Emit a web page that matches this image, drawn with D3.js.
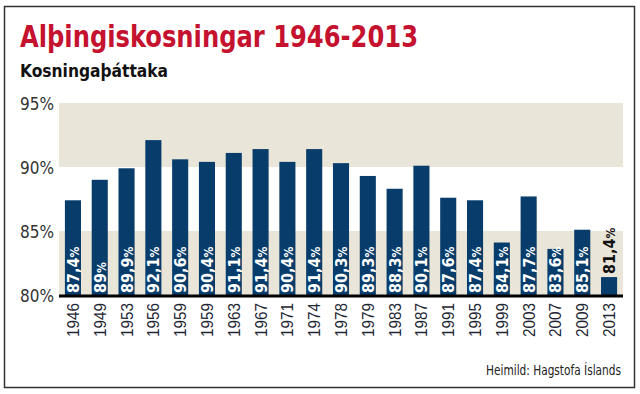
<!DOCTYPE html>
<html>
<head>
<meta charset="utf-8">
<script src="https://cdn.jsdelivr.net/npm/d3@7"></script>
<style>
  body { margin: 0; background: #fff; }
  svg { display: block; }
</style>
</head>
<body>
<script>
// ----------------------------------- DATA --------------------------------------------
var years = ['1946', '1949', '1953', '1956', '1959', '1959', '1963', '1967', '1971', '1974', '1978',
             '1979', '1983', '1987', '1991', '1995', '1999', '2003', '2007', '2009', '2013']
var turnout = [87.4, 89, 89.9, 92.1, 90.6, 90.4, 91.1, 91.4, 90.4, 91.4, 90.3,
               89.3, 88.3, 90.1, 87.6, 87.4, 84.1, 87.7, 83.6, 85.1, 81.4]
var yTicks = [80, 85, 90, 95]
var bands = [[80, 85], [90, 95]]

var title = 'Alþingiskosningar 1946-2013'
var subtitle = 'Kosningaþáttaka'
var source = 'Heimild: Hagstofa Íslands'

// ----------------------------------- SVG and FRAME --------------------------------------------
var width = 640
var height = 394
var narrow = '"DejaVu Sans Condensed", "Liberation Sans", sans-serif'

var svg = d3.select('body')
      .append('svg')
      .attr('width', width)
      .attr('height', height)

svg.append('rect')
    .attr('x', 4.5)
    .attr('y', 6.5)
    .attr('width', 630)
    .attr('height', 381)
    .attr('fill', 'none')
    .attr('stroke', '#333')
    .attr('stroke-width', 1.5)

// squeeze a text to the width it has in the print version
function squeeze(sel, w) {
  sel.attr('textLength', w).attr('lengthAdjust', 'spacingAndGlyphs')
}

svg.append('text')
    .attr('x', 20)
    .attr('y', 47)
    .attr('fill', '#c4122f')
    .style('font-family', narrow)
    .style('font-weight', 'bold')
    .style('font-size', '30px')
    .text(title)
    .call(squeeze, 398)

svg.append('text')
    .attr('x', 20)
    .attr('y', 77)
    .attr('fill', '#111')
    .style('font-family', narrow)
    .style('font-weight', 'bold')
    .style('font-size', '17px')
    .text(subtitle)
    .call(squeeze, 148)

// ----------------------------------- SCALES --------------------------------------------
var plotLeft = 59, plotRight = 623, plotTop = 103, plotBottom = 295

var x = d3.scaleBand()
    .domain(d3.range(years.length))
    .range([plotLeft, plotRight])
    .paddingInner(0.4)
    .paddingOuter(0.22)

var y = d3.scaleLinear()
    .domain([80, 95])
    .range([plotBottom, plotTop])

// ----------------------------------- BACKGROUND BANDS --------------------------------------------
svg.append('g')
    .selectAll('rect')
    .data(bands)
    .enter()
    .append('rect')
    .attr('x', plotLeft)
    .attr('width', plotRight - plotLeft)
    .attr('y', function(d){ return y(d[1]) })
    .attr('height', function(d){ return y(d[0]) - y(d[1]) })
    .attr('fill', '#e9e5d8')

// ----------------------------------- Y AXIS --------------------------------------------
var yAxis = svg.append('g')
    .attr('transform', 'translate(' + (plotLeft - 5) + ',0)')
    .call(d3.axisLeft(y).tickValues(yTicks).tickSize(0).tickPadding(0)
      .tickFormat(function(d){ return d + '%' }))

yAxis.select('.domain').remove()
yAxis.selectAll('text')
    .attr('fill', '#333')
    .attr('dy', '0.35em')
    .style('font-family', narrow)
    .style('font-size', '18px')
    .call(squeeze, 34)

// ----------------------------------- BARS --------------------------------------------
svg.append('g')
    .selectAll('rect')
    .data(turnout)
    .enter()
    .append('rect')
    .attr('x', function(d, i){ return x(i) })
    .attr('width', x.bandwidth())
    .attr('y', function(d){ return y(d) })
    .attr('height', function(d){ return y(80) - y(d) })
    .attr('fill', '#083d6b')

// value labels, white inside the bar unless the bar is too short
function fits(d) { return y(80) - y(d) > 40 }

var labels = svg.append('g')
    .selectAll('text')
    .data(turnout)
    .enter()
    .append('text')
    .attr('transform', function(d, i){
      var ty = fits(d) ? y(80) - 2 : y(d) - 3
      return 'translate(' + (x(i) + x.bandwidth() / 2 + 6) + ',' + ty + ') rotate(-90)'
    })
    .attr('fill', function(d){ return fits(d) ? '#fff' : '#111' })
    .style('font-family', narrow)
    .style('font-weight', 'bold')
    .style('font-size', '16px')

labels.append('tspan')
    .text(function(d){ return String(d).replace('.', ',') })
labels.append('tspan')
    .style('font-size', '12px')
    .text('%')

// ----------------------------------- X AXIS --------------------------------------------
svg.append('line')
    .attr('x1', plotLeft)
    .attr('x2', plotRight)
    .attr('y1', plotBottom + 1)
    .attr('y2', plotBottom + 1)
    .attr('stroke', '#000')
    .attr('stroke-width', 3)

var xAxis = svg.append('g')
    .attr('transform', 'translate(0,' + (plotBottom + 2) + ')')
    .call(d3.axisBottom(x).tickSize(0).tickPadding(0)
      .tickFormat(function(i){ return years[i] }))

xAxis.select('.domain').remove()
xAxis.selectAll('text')
    .attr('transform', 'rotate(-90)')
    .attr('x', -6)
    .attr('y', 0)
    .attr('dy', '0.36em')
    .attr('text-anchor', 'end')
    .attr('fill', '#1e2633')
    .style('font-family', '"Liberation Sans", Arial, sans-serif')
    .style('font-size', '16.5px')
    .call(squeeze, 34)

// ----------------------------------- SOURCE --------------------------------------------
svg.append('text')
    .attr('x', 621)
    .attr('y', 375)
    .attr('text-anchor', 'end')
    .attr('fill', '#222')
    .style('font-family', narrow)
    .style('font-size', '14px')
    .text(source)
    .call(squeeze, 135)
</script>
</body>
</html>
